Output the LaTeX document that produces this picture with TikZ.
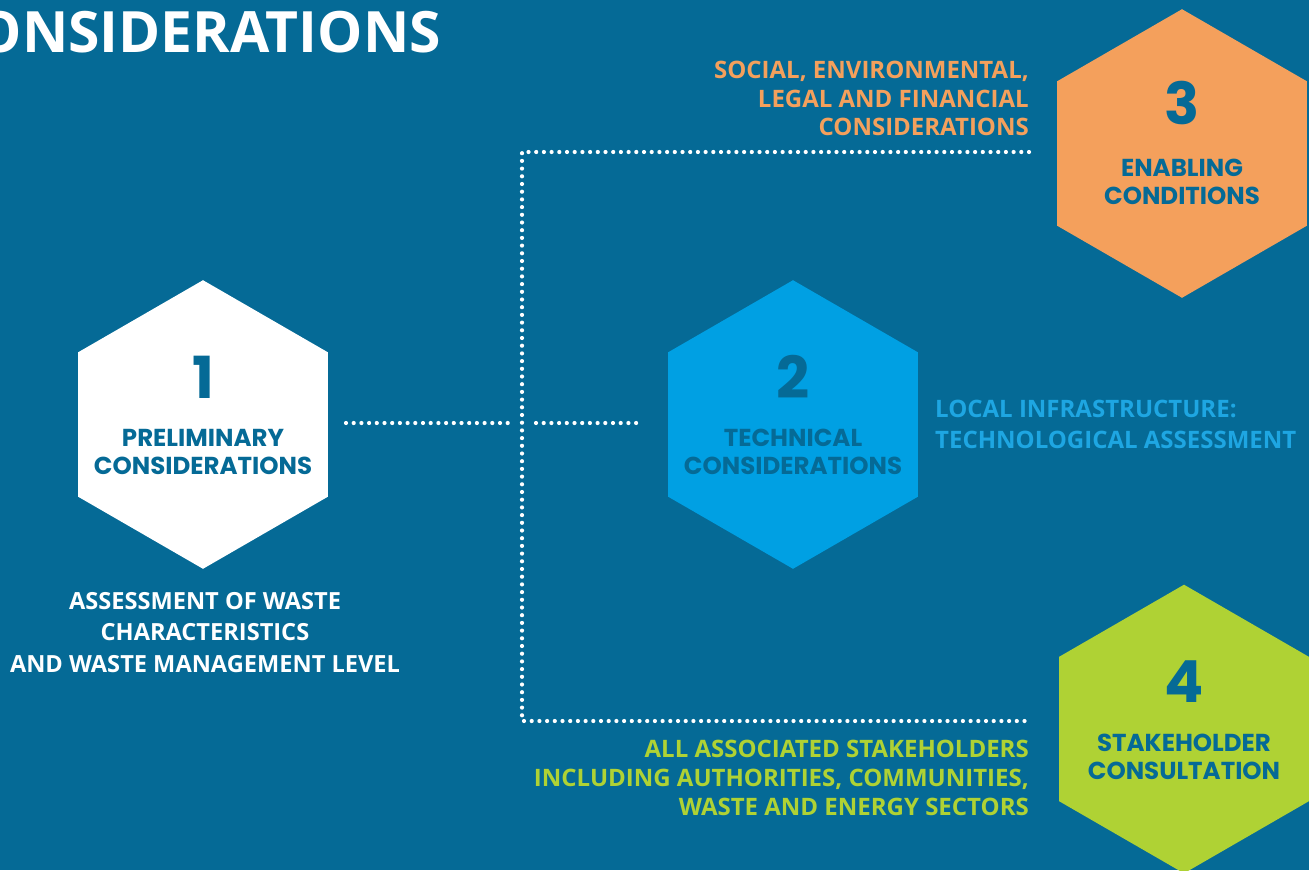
\documentclass[tikz,border=0pt]{standalone}
\usepackage{fontspec}
\setmainfont{Open Sans}
\newfontfamily\pop{Poppins}
\definecolor{bg}{RGB}{5,106,150}
\definecolor{hexblue}{RGB}{0,160,227}
\definecolor{hexorange}{RGB}{244,160,92}
\definecolor{hexgreen}{RGB}{175,210,52}
\definecolor{txtblue}{RGB}{30,166,226}
\tikzset{
  dotline/.style={draw=white, line width=4.2pt, line cap=round, dash pattern=on 0pt off 7.7pt},
  num/.style={font=\pop\bfseries\fontsize{58}{58}\selectfont, text=bg, inner sep=0pt},
  hexlabel/.style={font=\pop\bfseries\fontsize{24.5}{28}\selectfont, text=bg, align=center, inner sep=0pt},
  desc/.style={font=\bfseries\fontsize{24}{29}\selectfont, inner sep=0pt},
}
\newcommand{\hexagon}[3]{% center name, radius, color
  \fill[#3] (#1) ++(90:#2) -- ++(210:#2) -- ++(270:#2) -- ++(330:#2) -- ++(30:#2) -- ++(90:#2) -- cycle;
}
\begin{document}
\begin{tikzpicture}[x=1pt,y=-1pt]
\useasboundingbox (0,0) rectangle (1309,870);
\fill[bg] (0,0) rectangle (1309,870);
\begin{scope}
\clip (0,0) rectangle (1309,870);
\node[font=\bfseries\fontsize{57}{57}\selectfont, text=white, anchor=east, inner sep=0pt] (title) at (441,32) {ONSIDERATIONS};

\coordinate (h1) at (203,424.5);
\coordinate (h2) at (793,424.5);
\coordinate (h3) at (1182,153.5);
\coordinate (h4) at (1184,729);
\hexagon{h1}{144.3}{white}
\hexagon{h2}{144.3}{hexblue}
\hexagon{h3}{144.3}{hexorange}
\hexagon{h4}{144.3}{hexgreen}

\node[num] (n1) at ([yshift=47.5pt]h1) {1};
\node[hexlabel] (l1) at ([yshift=-27.5pt]h1) {PRELIMINARY\\CONSIDERATIONS};
\node[num] (n2) at ([yshift=47.5pt]h2) {2};
\node[hexlabel] (l2) at ([yshift=-27.5pt]h2) {TECHNICAL\\CONSIDERATIONS};
\node[num] (n3) at ([yshift=50pt]h3) {3};
\node[hexlabel] (l3) at ([yshift=-28pt]h3) {ENABLING\\CONDITIONS};
\node[num] (n4) at ([yshift=47pt]h4) {4};
\node[hexlabel] (l4) at ([yshift=-28pt]h4) {STAKEHOLDER\\CONSULTATION};

\node[desc, text=white, align=center, font=\bfseries\fontsize{23.6}{31.5}\selectfont] (d1) at (205,632.5) {ASSESSMENT OF WASTE\\CHARACTERISTICS\\AND WASTE MANAGEMENT LEVEL};
\node[desc, text=hexorange, align=right, anchor=east, font=\bfseries\fontsize{24}{28.5}\selectfont] (d3) at (1029,98.5) {SOCIAL, ENVIRONMENTAL,\\LEGAL AND FINANCIAL\\CONSIDERATIONS};
\node[desc, text=txtblue, align=left, anchor=west, font=\bfseries\fontsize{24}{31}\selectfont] (d2) at (935,424.5) {LOCAL INFRASTRUCTURE:\\TECHNOLOGICAL ASSESSMENT};
\node[desc, text=hexgreen, align=right, anchor=east] (d4) at (1029,778) {ALL ASSOCIATED STAKEHOLDERS\\INCLUDING AUTHORITIES, COMMUNITIES,\\WASTE AND ENERGY SECTORS};

\coordinate (a) at (346,423);
\coordinate (b) at (512,423);
\coordinate (c) at (536,423);
\coordinate (d) at (642,423);
\coordinate (top) at (522,152);
\coordinate (topend) at (1029,152);
\coordinate (bot) at (522,721);
\coordinate (botend) at (1029,721);
\draw[dotline] (a) -- (b);
\draw[dotline] (c) -- (d);
\draw[dotline] (topend) -- (top) -- (bot) -- (botend);
\end{scope}
\end{tikzpicture}
\end{document}
